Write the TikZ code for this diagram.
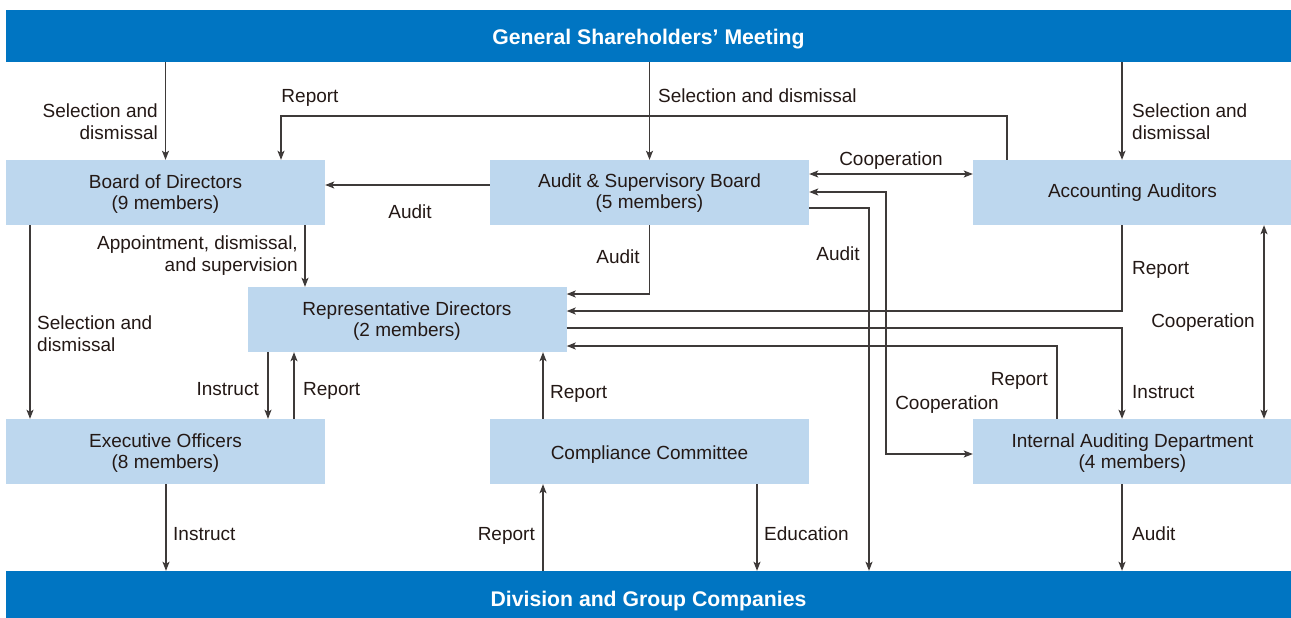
\documentclass[tikz,border=0pt]{standalone}
\usepackage{fontspec}
\setmainfont{Liberation Sans}
\usetikzlibrary{arrows.meta}
\definecolor{barblue}{RGB}{0,117,194}
\definecolor{boxblue}{RGB}{189,215,238}
\definecolor{txt}{RGB}{35,24,21}
\definecolor{linec}{RGB}{62,58,57}
\newcommand{\lift}[1]{\rule{0pt}{#1}}
\begin{document}
\begin{tikzpicture}[x=1pt,y=-1pt,
  font=\fontsize{19}{21.5}\selectfont,
  box/.style={fill=boxblue, minimum width=319pt, minimum height=65pt, inner sep=0pt, align=center, text=txt},
  bar/.style={fill=barblue, text=white, font=\fontsize{21.2}{24}\selectfont\bfseries, minimum width=1285pt, inner sep=0pt, text depth=4.5pt},
  arr/.style={draw=linec, line width=1.3pt, -{Stealth[length=9pt,width=7pt,inset=2pt]}},
  dbl/.style={draw=linec, line width=1.3pt, {Stealth[length=9pt,width=7pt,inset=2pt]}-{Stealth[length=9pt,width=7pt,inset=2pt]}},
  lab/.style={text=txt, inner sep=0pt, text height=13.7pt, text depth=4pt},
  mlab/.style={text=txt, inner sep=0pt, align=left},
  mlabr/.style={text=txt, inner sep=0pt, align=right}]
\useasboundingbox (0,0) rectangle (1291,618);
% bars
\node[bar, minimum height=52pt, text height=21.1pt] (gsm) at (648.5,36) {General Shareholders’ Meeting};
\node[bar, minimum height=47pt, text height=27.5pt] (div) at (648.5,594.5) {Division and Group Companies};
% boxes
\node[box] (bod) at (165.5,192.5) {\lift{17pt}Board of Directors\\(9 members)};
\node[box] (asb) at (649.5,192.5) {\lift{14.5pt}Audit \& Supervisory Board\\(5 members)};
\node[box, text height=13.6pt, text depth=4pt] (aa)  at (1132.5,192.5) {Accounting Auditors};
\node[box] (rd)  at (407,319.5) {\lift{17.4pt}Representative Directors\\(2 members)};
\node[box] (eo)  at (165.5,451.5) {\lift{17pt}Executive Officers\\(8 members)};
\node[box, text height=20.4pt, text depth=4pt] (cc)  at (649.5,451.5) {Compliance Committee};
\node[box] (iad) at (1132.5,451.5) {\lift{17pt}Internal Auditing Department\\(4 members)};
% helper coordinates
\coordinate (x30) at (30,0);
\coordinate (x166) at (166,0);
\coordinate (x268) at (268,0);
\coordinate (x281) at (281,0);
\coordinate (x294) at (294,0);
\coordinate (x305) at (305,0);
\coordinate (x543) at (543,0);
\coordinate (x757) at (757,0);
\coordinate (x869) at (869,0);
\coordinate (x886) at (886,0);
\coordinate (x1007) at (1007,0);
\coordinate (x1057) at (1057,0);
\coordinate (x1122) at (1122,0);
\coordinate (x1264) at (1264,0);
\coordinate (y116) at (0,116);
\coordinate (y174) at (0,174);
\coordinate (y185) at (0,185);
\coordinate (y192) at (0,192);
\coordinate (y208) at (0,208);
\coordinate (y294) at (0,294);
\coordinate (y311) at (0,311);
\coordinate (y328) at (0,328);
\coordinate (y346) at (0,346);
\coordinate (y454) at (0,454);
% connectors
\draw[arr] (gsm.south -| bod) -- (bod.north);
\draw[arr] (gsm.south -| asb) -- (asb.north);
\draw[arr] (gsm.south -| x1122) -- (aa.north -| x1122);
\draw[arr] (aa.north -| x1007) -- (x1007 |- y116) -- (x281 |- y116) -- (bod.north -| x281);
\draw[arr] (asb.west |- y185) -- (bod.east |- y185);
\draw[dbl] (asb.east |- y174) -- (aa.west |- y174);
\draw[dbl] (asb.east |- y192) -- (x886 |- y192) -- (x886 |- y454) -- (iad.west |- y454);
\draw[arr] (asb.east |- y208) -- (x869 |- y208) -- (div.north -| x869);
\draw[arr] (bod.south -| x305) -- (rd.north -| x305);
\draw[arr] (bod.south -| x30) -- (eo.north -| x30);
\draw[arr] (asb.south) -- (asb.south |- y294) -- (rd.east |- y294);
\draw[arr] (aa.south -| x1122) -- (x1122 |- y311) -- (rd.east |- y311);
\draw[arr] (rd.east |- y328) -- (x1122 |- y328) -- (iad.north -| x1122);
\draw[arr] (iad.north -| x1057) -- (x1057 |- y346) -- (rd.east |- y346);
\draw[dbl] (aa.south -| x1264) -- (iad.north -| x1264);
\draw[arr] (rd.south -| x268) -- (eo.north -| x268);
\draw[arr] (eo.north -| x294) -- (rd.south -| x294);
\draw[arr] (cc.north -| x543) -- (rd.south -| x543);
\draw[arr] (eo.south -| x166) -- (div.north -| x166);
\draw[arr] (div.north -| x543) -- (cc.south -| x543);
\draw[arr] (cc.south -| x757) -- (div.north -| x757);
\draw[arr] (iad.south -| x1122) -- (div.north -| x1122);
% labels
\node[mlabr, anchor=east] (l1) at (158,121.5) {Selection and\\dismissal};
\node[lab] (l2) at (310,97.5) {Report};
\node[lab, anchor=west] (l3) at (658,97.5) {Selection and dismissal};
\node[mlab, anchor=west] (l4) at (1132,121.5) {Selection and\\dismissal};
\node[lab] (l5) at (891,160.3) {Cooperation};
\node[lab] (l6) at (410,213.5) {Audit};
\node[lab] (l7) at (838,255.3) {Audit};
\node[mlabr, anchor=east] (l8) at (298,255.7) {Appointment, dismissal,\\and supervision};
\node[mlab, anchor=west] (l9) at (37,333.5) {Selection and\\dismissal};
\node[lab] (l10) at (618,258.5) {Audit};
\node[lab, anchor=west] (l11) at (1132,269.5) {Report};
\node[lab] (l12) at (1203,322.7) {Cooperation};
\node[lab, anchor=east] (l13) at (1048,380.7) {Report};
\node[lab] (l14) at (947,404.3) {Cooperation};
\node[lab, anchor=west] (l15) at (1132,393.7) {Instruct};
\node[lab, anchor=east] (l16) at (259,390.5) {Instruct};
\node[lab, anchor=west] (l17) at (303,390.5) {Report};
\node[lab, anchor=west] (l18) at (550,393.5) {Report};
\node[lab, anchor=west] (l19) at (173,535.5) {Instruct};
\node[lab, anchor=east] (l20) at (535,535.3) {Report};
\node[lab, anchor=west] (l21) at (764,535.3) {Education};
\node[lab, anchor=west] (l22) at (1132,535.5) {Audit};
\end{tikzpicture}
\end{document}
